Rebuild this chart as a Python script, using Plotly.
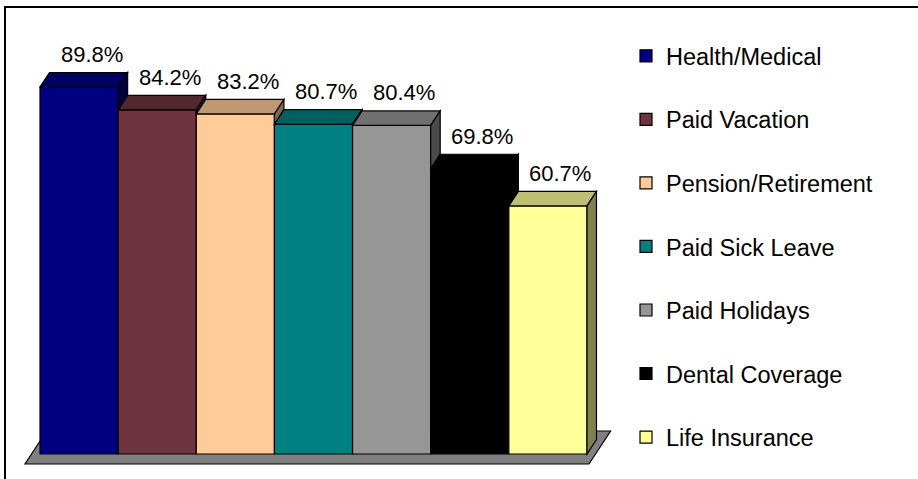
import plotly.graph_objects as go

# ---- data ----
categories = ["Health/Medical", "Paid Vacation", "Pension/Retirement", "Paid Sick Leave",
              "Paid Holidays", "Dental Coverage", "Life Insurance"]
values = [89.8, 84.2, 83.2, 80.7, 80.4, 69.8, 60.7]
value_labels = ["89.8%", "84.2%", "83.2%", "80.7%", "80.4%", "69.8%", "60.7%"]
front_colors = ["#000080", "#6E3440", "#FFCC99", "#008080", "#969696", "#000000", "#FFFF99"]

# ---- layout geometry ----
W, H = 918, 479
PX_PER_CAT = 78.14      # pixel width of one category
PX_PER_UNIT = 4.087     # pixel per percentage point
X0_PX = 40              # left edge of first bar
Y0_PX = 454             # baseline pixel
DEPTH_PX_X, DEPTH_PX_Y = 9.5, 14.5

x_lo = -0.5 - X0_PX / PX_PER_CAT
x_hi = -0.5 + (W - X0_PX) / PX_PER_CAT
y_lo = -(H - Y0_PX) / PX_PER_UNIT
y_hi = Y0_PX / PX_PER_UNIT
DX = DEPTH_PX_X / PX_PER_CAT
DY = DEPTH_PX_Y / PX_PER_UNIT


def shade(hexcol, f):
    h = hexcol.lstrip("#")
    r, g, b = (int(h[i:i + 2], 16) for i in (0, 2, 4))
    return "rgb(%d,%d,%d)" % (round(r * f), round(g * f), round(b * f))


fig = go.Figure()
for i, (cat, v, col) in enumerate(zip(categories, values, front_colors)):
    fig.add_trace(go.Bar(
        x=[i], y=[v], name=cat, width=1, marker=dict(color=col, line=dict(color="black", width=1.2)),
        legendgroup=cat, hoverinfo="skip",
    ))

shapes = []
# floor
ff, fb = -10 / PX_PER_UNIT, 23 / PX_PER_UNIT
slope = DX / DY
fl_left, fl_right = -0.5 - 15 / PX_PER_CAT, 6.5 + 2 / PX_PER_CAT
shift = (fb - ff) * slope
shapes.append(dict(
    type="path", xref="x", yref="y", layer="below",
    path=f"M{fl_left},{ff} L{fl_right},{ff} L{fl_right + shift},{fb} L{fl_left + shift},{fb} Z",
    fillcolor="#808080", line=dict(color="black", width=1.2)))

n = len(values)
for i, (v, col) in enumerate(zip(values, front_colors)):
    L, R = i - 0.5, i + 0.5
    # top face
    shapes.append(dict(
        type="path", xref="x", yref="y", layer="above",
        path=f"M{L},{v} L{R},{v} L{R + DX},{v + DY} L{L + DX},{v + DY} Z",
        fillcolor=shade(col, 0.75), line=dict(color="black", width=1.2)))
    # visible part of side face
    low = values[i + 1] if i + 1 < n else 0
    if v > low:
        shapes.append(dict(
            type="path", xref="x", yref="y", layer="above",
            path=f"M{R},{v} L{R + DX},{v + DY} L{R + DX},{low + DY} L{R},{low} Z",
            fillcolor=shade(col, 0.5), line=dict(color="black", width=1.2)))

# outer frame
shapes.append(dict(type="rect", xref="paper", yref="paper",
                   x0=5 / W, x1=1.05, y0=-0.05, y1=1 - 7 / H,
                   line=dict(color="black", width=2), fillcolor="rgba(0,0,0,0)"))

annotations = []
for i, (v, lab) in enumerate(zip(values, value_labels)):
    annotations.append(dict(
        x=i + DX, y=v + DY, xref="x", yref="y", text=lab, showarrow=False,
        xanchor="center", yanchor="middle", yshift=18, xshift=3,
        font=dict(size=22, color="black", family="Liberation Sans, Arial, sans-serif")))

fig.update_layout(
    width=W, height=H,
    margin=dict(l=0, r=0, t=0, b=0),
    paper_bgcolor="white", plot_bgcolor="white",
    barmode="overlay",
    showlegend=True,
    legend=dict(x=626 / W, y=1 - 34 / H, xanchor="left", yanchor="top",
                font=dict(size=23.5, color="black", family="Liberation Sans, Arial, sans-serif"),
                tracegroupgap=30, bgcolor="rgba(0,0,0,0)", borderwidth=0, traceorder="grouped"),
    xaxis=dict(range=[x_lo, x_hi], visible=False, fixedrange=True),
    yaxis=dict(range=[y_lo, y_hi], visible=False, fixedrange=True),
    shapes=shapes, annotations=annotations,
)

fig.write_html("out.html", config={"displayModeBar": False, "staticPlot": True},
               post_script="document.body.style.margin='0px';document.body.style.overflow='hidden';")
